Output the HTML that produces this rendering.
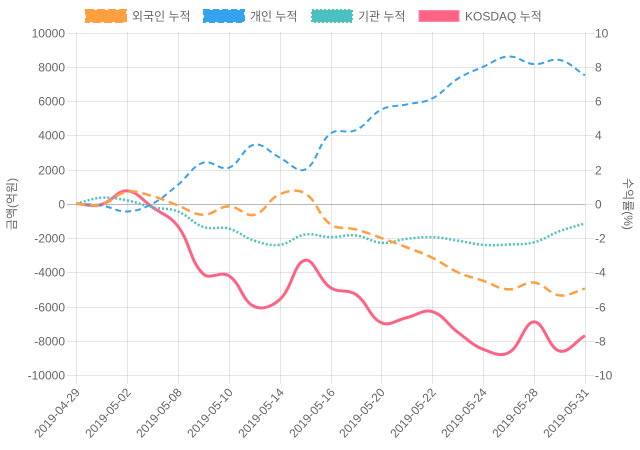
<!DOCTYPE html>
<html>
<head>
<meta charset="utf-8">
<style>
  html,body{margin:0;padding:0;background:#fff;}
  svg{display:block;}
  text{font-family:"Liberation Sans","Noto Sans CJK KR",sans-serif;font-size:12px;fill:#666;}
</style>
</head>
<body>
<svg id="c" width="640" height="450" viewBox="0 0 640 450" xmlns="http://www.w3.org/2000/svg">
  <g id="grid" stroke="rgba(0,0,0,0.1)" stroke-width="1" fill="none"></g>
  <g id="ylab"></g>
  <g id="xlab"></g>
  <text transform="translate(16,204) rotate(-90)" text-anchor="middle">금액(억원)</text>
  <text transform="translate(624,204) rotate(90)" text-anchor="middle">수익률(%)</text>

  <!-- legend -->
  <rect x="86" y="10" width="40" height="12" fill="#ff9f40" stroke="#ff9f40" stroke-width="2" stroke-dasharray="8 3"/>
  <text x="132" y="20.5">외국인 누적</text>
  <rect x="204" y="10" width="40" height="12" fill="#36a2eb" stroke="#36a2eb" stroke-width="2" stroke-dasharray="6 3"/>
  <text x="250" y="20.5">개인 누적</text>
  <rect x="312" y="10" width="40" height="12" fill="#4bc0c0" stroke="#4bc0c0" stroke-width="2" stroke-dasharray="2 2"/>
  <text x="358" y="20.5">기관 누적</text>
  <rect x="419" y="10.5" width="40" height="11" fill="#ff6384" stroke="#ff8aa2" stroke-width="1"/>
  <text x="465" y="20.5">KOSDAQ 누적</text>

  <g id="lines" fill="none"></g>
</svg>
<script>
(function(){
  var NS="http://www.w3.org/2000/svg";
  var X0=76, X1=585, Y0=32.5, Y1=375;
  var N=21, DX=(X1-X0)/(N-1);
  function yv(v){ return 203.75 - v*17.125; }
  function el(tag, attrs, parent, txt){
    var e=document.createElementNS(NS,tag);
    for(var k in attrs) e.setAttribute(k, attrs[k]);
    if(txt!==undefined) e.textContent=txt;
    parent.appendChild(e); return e;
  }
  var grid=document.getElementById('grid');
  // horizontal grid + ticks
  for(var k=0;k<=10;k++){
    var y=Math.round(Y0+k*(Y1-Y0)/10)+0.5;
    var v=10-2*k;
    var col = (v===0)?'rgba(0,0,0,0.28)':'rgba(0,0,0,0.1)';
    el('line',{x1:67,y1:y,x2:X1,y2:y,stroke:col},grid);
    el('line',{x1:X1,y1:y,x2:594,y2:y,stroke:'rgba(0,0,0,0.1)'},grid);
    el('text',{x:65,y:y+4,'text-anchor':'end'},document.getElementById('ylab'),String(v*1000));
    el('text',{x:595,y:y+4,'text-anchor':'start'},document.getElementById('ylab'),String(v));
  }
  // vertical grid
  var labels=['2019-04-29','2019-05-02','2019-05-08','2019-05-10','2019-05-14','2019-05-16','2019-05-20','2019-05-22','2019-05-24','2019-05-28','2019-05-31'];
  for(var k=0;k<=10;k++){
    var x=Math.round(X0+k*(X1-X0)/10)+0.5;
    el('line',{x1:x,y1:Y0,x2:x,y2:384,stroke:'rgba(0,0,0,0.1)'},grid);
    el('text',{transform:'translate('+(x+1)+',390) rotate(-48)','text-anchor':'end',dy:'0.35em'},document.getElementById('xlab'),labels[k]);
  }

  var data={
    orange:[0,-0.05,0.7,0.45,-0.1,-0.65,-0.15,-0.65,0.55,0.6,-1.2,-1.5,-2.0,-2.55,-3.15,-4.0,-4.5,-5.0,-4.6,-5.35,-4.95],
    blue:[0,-0.1,-0.45,0.0,1.1,2.4,2.1,3.45,2.7,2.0,4.1,4.3,5.5,5.8,6.15,7.3,8.0,8.6,8.15,8.4,7.5],
    teal:[0,0.35,0.2,-0.2,-0.45,-1.35,-1.45,-2.15,-2.4,-1.8,-1.95,-1.85,-2.28,-2.05,-1.95,-2.15,-2.4,-2.38,-2.25,-1.6,-1.15],
    red:[0,-0.05,0.75,-0.2,-1.3,-4.1,-4.2,-6.0,-5.6,-3.3,-4.9,-5.3,-6.95,-6.65,-6.3,-7.5,-8.5,-8.7,-6.9,-8.6,-7.7]
  };
  function cap(p){ p.y=Math.max(Y0,Math.min(Y1,p.y)); p.x=Math.max(X0,Math.min(X1,p.x)); return p; }
  function path(vals){
    var t=0.4;
    var pts=vals.map(function(v,i){return {x:X0+i*DX,y:yv(v)};});
    var cps=pts.map(function(cur,i){
      var prev=pts[i-1]||cur, next=pts[i+1]||cur;
      var d01=Math.hypot(cur.x-prev.x,cur.y-prev.y), d12=Math.hypot(next.x-cur.x,next.y-cur.y);
      var s01=d01/(d01+d12), s12=d12/(d01+d12);
      if(isNaN(s01)) s01=0; if(isNaN(s12)) s12=0;
      var fa=t*s01, fb=t*s12;
      return {p:cap({x:cur.x-fa*(next.x-prev.x),y:cur.y-fa*(next.y-prev.y)}),
              n:cap({x:cur.x+fb*(next.x-prev.x),y:cur.y+fb*(next.y-prev.y)})};
    });
    var d='M'+pts[0].x.toFixed(2)+','+pts[0].y.toFixed(2);
    for(var i=1;i<pts.length;i++){
      d+='C'+cps[i-1].n.x.toFixed(2)+','+cps[i-1].n.y.toFixed(2)+' '+cps[i].p.x.toFixed(2)+','+cps[i].p.y.toFixed(2)+' '+pts[i].x.toFixed(2)+','+pts[i].y.toFixed(2);
    }
    return d;
  }
  var lines=document.getElementById('lines');
  el('path',{d:path(data.red),stroke:'#ff6384','stroke-width':3,'stroke-linejoin':'round'},lines);
  el('path',{d:path(data.teal),stroke:'#4bc0c0','stroke-width':2.5,'stroke-dasharray':'2 2'},lines);
  el('path',{d:path(data.blue),stroke:'#36a2eb','stroke-width':2,'stroke-dasharray':'6 4'},lines);
  el('path',{d:path(data.orange),stroke:'#ff9f40','stroke-width':2.5,'stroke-dasharray':'9 5'},lines);
})();
</script>
</body>
</html>
